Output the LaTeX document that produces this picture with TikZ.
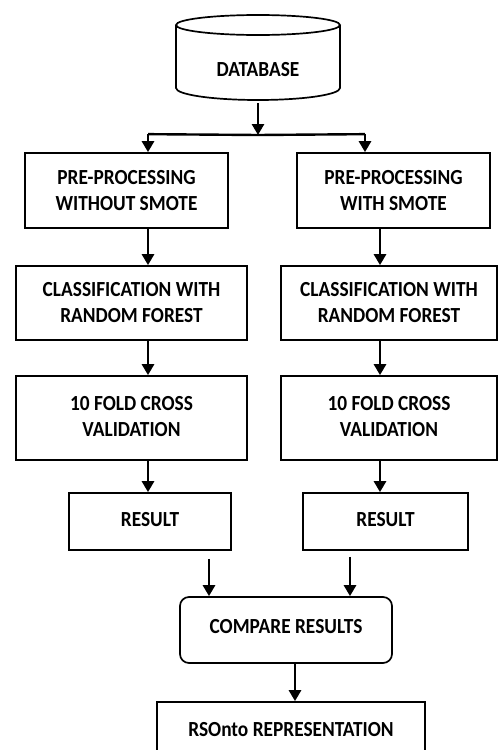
\documentclass[tikz,border=0pt]{standalone}
\usepackage{fontspec}
\setmainfont{Carlito}[FakeStretch=0.9]
\usetikzlibrary{arrows.meta,calc}
\newcommand{\twolines}[2]{\raisebox{#1}{\begin{tabular}{@{}c@{}}#2\end{tabular}}}
\begin{document}
\begin{tikzpicture}[x=1pt,y=-1pt,
  txt/.style={font=\fontsize{21.5}{26}\selectfont\bfseries},
  box/.style={draw, line width=1.7pt, align=center, txt, inner sep=0pt},
  arr/.style={line width=2.8pt, -{Triangle[width=12pt,length=11pt]}},
  link/.style={line width=2.4pt}]
\useasboundingbox[fill=white] (0,0) rectangle (498,750);
% database cylinder
\draw[line width=1.7pt, fill=white] (176,25) -- (176,88) arc[start angle=180, end angle=360, x radius=82pt, y radius=12pt] -- (340,25);
\draw[line width=1.7pt] (258,25) ellipse [x radius=82pt, y radius=10pt];
\node[txt] (db) at (258,70) {DATABASE};
\coordinate (dbb) at (258,103);
\coordinate (j) at (258,135);
\coordinate (xl) at (148,0);
\coordinate (xr) at (380,0);
\coordinate (xa) at (209,0);
\coordinate (xb) at (350,0);
\coordinate (xc) at (295,0);
% boxes
\node[box, minimum width=203pt, minimum height=75pt] (pre1) at (126.5,190.5) {PRE-PROCESSING\\WITHOUT SMOTE};
\node[box, minimum width=193pt, minimum height=75pt] (pre2) at (393.5,190.5) {PRE-PROCESSING\\WITH SMOTE};
\node[box, minimum width=231pt, minimum height=74pt] (cls1) at (131.5,303) {CLASSIFICATION WITH\\RANDOM FOREST};
\node[box, minimum width=216pt, minimum height=74pt] (cls2) at (389,303) {CLASSIFICATION WITH\\RANDOM FOREST};
\node[box, minimum width=231pt, minimum height=84pt] (cv1) at (131.5,418) {\twolines{5pt}{10 FOLD CROSS\\VALIDATION}};
\node[box, minimum width=216pt, minimum height=84pt] (cv2) at (389,418) {\twolines{5pt}{10 FOLD CROSS\\VALIDATION}};
\node[box, minimum width=162pt, minimum height=57pt] (res1) at (150,521.5) {\raisebox{4pt}{RESULT}};
\node[box, minimum width=165pt, minimum height=57pt] (res2) at (385.5,521.5) {\raisebox{4pt}{RESULT}};
\node[box, rounded corners=9pt, minimum width=212pt, minimum height=66pt] (cmp) at (286,630) {\raisebox{7pt}{COMPARE RESULTS}};
\node[box, minimum width=268pt, minimum height=62pt] (rso) at (291,733) {\raisebox{8pt}{RSOnto REPRESENTATION}};
% connectors
\draw[arr] (dbb) -- (j);
\draw[link] (pre1.north -| xl) ++(0,-18) coordinate (jl) -- (j);
\draw[link] (pre2.north -| 365,0) ++(0,-18) coordinate (jr) -- (j);
\draw[arr] (jl) -- (pre1.north -| xl);
\draw[arr] (jr) -- (pre2.north -| 365,0);
\draw[arr] (pre1.south -| xl) -- (cls1.north -| xl);
\draw[arr] (cls1.south -| xl) -- (cv1.north -| xl);
\draw[arr] (cv1.south -| xl) -- (res1.north -| xl);
\draw[arr] (pre2.south -| xr) -- (cls2.north -| xr);
\draw[arr] (cls2.south -| xr) -- (cv2.north -| xr);
\draw[arr] (cv2.south -| xr) -- (res2.north -| xr);
\draw[arr, shorten <=8pt] (res1.south -| xa) -- (cmp.north -| xa);
\draw[arr, shorten <=6pt] (res2.south -| xb) -- (cmp.north -| xb);
\draw[arr] (cmp.south -| xc) -- (rso.north -| xc);
\end{tikzpicture}
\end{document}
